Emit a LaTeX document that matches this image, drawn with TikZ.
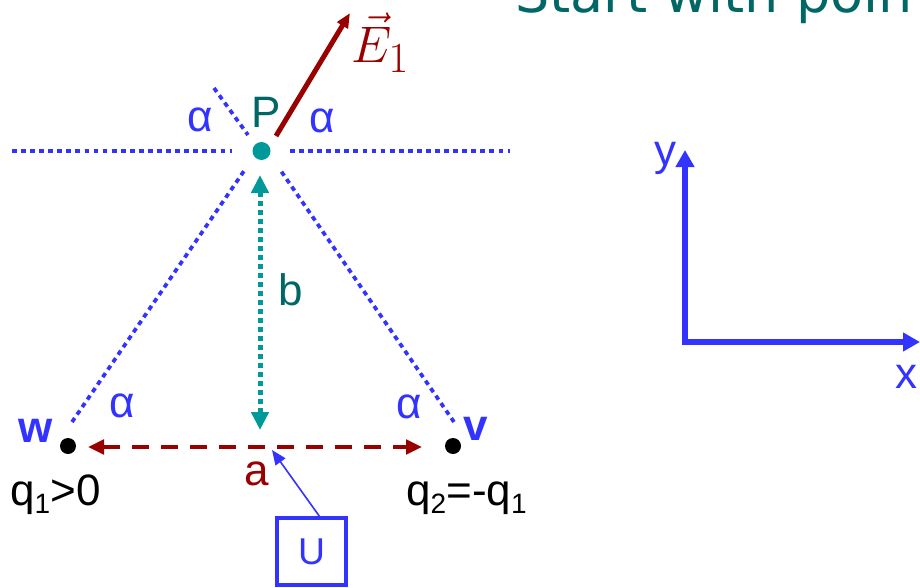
\documentclass[tikz,border=0pt]{standalone}
\usepackage{fontspec}
\setmainfont{Liberation Sans}
\newfontfamily\titlefont{DejaVu Sans}
\usetikzlibrary{arrows.meta}
\definecolor{myblue}{HTML}{3333FF}
\definecolor{myteal}{HTML}{009999}
\definecolor{darkteal}{HTML}{006666}
\definecolor{myred}{HTML}{990000}
\newcommand\lowsub[1]{\raisebox{-6pt}{\fontsize{21}{24}\selectfont #1}}
\begin{document}
\begin{tikzpicture}[x=0.75pt,y=-0.75pt,
  lbl/.style={inner sep=0pt, anchor=base, font=\fontsize{33}{40}\selectfont},
  dotline/.style={myblue, line width=2.8pt, dash pattern=on 3.6pt off 3.2pt},
  chargedot/.style={circle, fill=black, minimum size=12pt, inner sep=0pt},
  axisline/.style={myblue, line width=4.5pt, line join=miter,
    {Triangle[length=12.75pt,width=13.5pt]}-{Triangle[length=12.75pt,width=13.5pt]}},
]
\useasboundingbox (0,0) rectangle (920,588);
\clip (0,0) rectangle (920,588);

% title (cut off at top)
\node[anchor=base west, inner sep=0pt, text=darkteal,
      font=\titlefont\fontsize{40.5}{48}\selectfont] (title) at (515,13) {Start with poin};

% point P and charges
\node[circle, fill=myteal, minimum size=13.5pt, inner sep=0pt] (P) at (261.5,151) {};
\node[chargedot] (w) at (68,446) {};
\node[chargedot] (v) at (453,446) {};

% dotted construction lines
\coordinate (hl1) at (12,151);  \coordinate (hl2) at (232,151);
\coordinate (hr1) at (290,151); \coordinate (hr2) at (510,151);
\coordinate (ll1) at (72,422);  \coordinate (ll2) at (244,171);
\coordinate (rl1) at (454,422); \coordinate (rl2) at (281,171);
\coordinate (ul1) at (214,88);  \coordinate (ul2) at (248,135);
\draw[dotline] (hl1) -- (hl2);
\draw[dotline] (hr1) -- (hr2);
\draw[dotline] (ll1) -- (ll2);
\draw[dotline] (rl1) -- (rl2);
\draw[dotline] (ul1) -- (ul2);

% field vector
\coordinate (es) at (276,136); \coordinate (ee) at (350,13);
\draw[myred, line width=3.75pt, -{Triangle[length=11pt,width=9pt]}] (es) -- (ee);
\node[anchor=base west, inner sep=0pt, text=myred, font=\fontsize{24.88}{30}\selectfont]
  (E) at (351,63) {\scalebox{1.55}{$\vec{E}_1$}};

% distance b
\coordinate (bt) at (260,175); \coordinate (bb) at (260,430);
\draw[myteal, line width=3.75pt, dash pattern=on 3.75pt off 3pt,
  {Triangle[length=13.5pt,width=12.75pt]}-{Triangle[length=13.5pt,width=12.75pt]}] (bt) -- (bb);

% distance a
\coordinate (al) at (88,447); \coordinate (ar) at (422,447);
\draw[myred, line width=2.6pt, dash pattern=on 12.75pt off 9pt,
  {Triangle[length=12pt,width=11pt]}-{Triangle[length=12pt,width=11pt]}] (al) -- (ar);

% U box
\node[draw=myblue, line width=2.4pt, minimum width=51.75pt, minimum height=50.25pt,
      inner sep=0pt, text=myblue, font=\fontsize{28}{32}\selectfont] (U) at (311.5,551.5) {U};
\coordinate (ut) at (272,450);
\draw[myblue, line width=1.2pt, -{Triangle[length=11pt,width=9pt]}] ([xshift=6pt]U.north) -- (ut);

% labels
\node[lbl, text=darkteal] (Plab) at (266,128) {P};
\node[lbl, text=myblue] (a1) at (200,132) {α};
\node[lbl, text=myblue] (a2) at (322,133) {α};
\node[lbl, text=myblue] (a3) at (122,417) {α};
\node[lbl, text=myblue] (a4) at (409,418) {α};
\node[lbl, text=darkteal] (blab) at (291,305) {b};
\node[lbl, text=myred] (alab) at (257,485) {a};
\node[lbl, text=myblue, font=\fontsize{33}{40}\selectfont\bfseries] (wlab) at (36,442) {w};
\node[lbl, text=myblue, font=\fontsize{33}{40}\selectfont\bfseries] (vlab) at (476,440) {v};
\node[lbl, anchor=base west] (q1) at (10,505) {q\lowsub{1}>0};
\node[lbl, anchor=base west] (q2) at (406,505) {q\lowsub{2}=-q\lowsub{1}};

% axes
\coordinate (Y) at (685,150); \coordinate (O) at (685,342); \coordinate (X) at (920,342);
\draw[axisline] (Y) -- (O) -- (X);
\node[lbl, text=myblue] (ylab) at (665,166) {y};
\node[lbl, text=myblue] (xlab) at (906,388) {x};
\end{tikzpicture}
\end{document}
